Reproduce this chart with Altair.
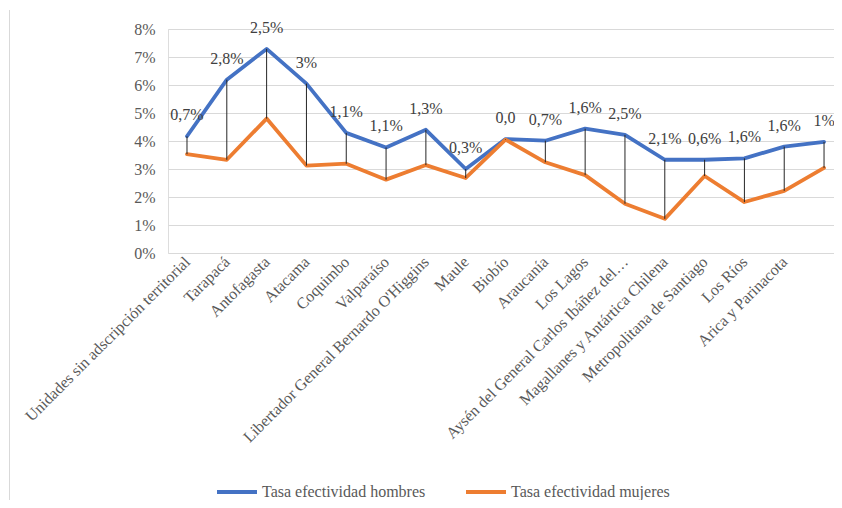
import json
import altair as alt
import pandas as pd

regiones = [
    "Unidades sin adscripción territorial", "Tarapacá", "Antofagasta", "Atacama",
    "Coquimbo", "Valparaíso", "Libertador General Bernardo O'Higgins", "Maule",
    "Biobío", "Araucanía", "Los Lagos", "Aysén del General Carlos Ibáñez del…",
    "Magallanes y Antártica Chilena", "Metropolitana de Santiago", "Los Ríos",
    "Arica y Parinacota", "Ñuble",
]
hombres = [4.17, 6.19, 7.29, 6.05, 4.29, 3.77, 4.40, 3.00, 4.07, 4.01, 4.44,
           4.22, 3.33, 3.33, 3.38, 3.80, 3.97]
mujeres = [3.53, 3.33, 4.80, 3.12, 3.19, 2.62, 3.14, 2.68, 4.05, 3.24, 2.78,
           1.76, 1.22, 2.75, 1.82, 2.22, 3.04]
etiquetas = ["0,7%", "2,8%", "2,5%", "3%", "1,1%", "1,1%", "1,3%", "0,3%", "0,0",
             "0,7%", "1,6%", "2,5%", "2,1%", "0,6%", "1,6%", "1,6%", "1%"]
series = ["Tasa efectividad hombres", "Tasa efectividad mujeres"]
colores = ["#4472C4", "#ED7D31"]
visibles = 16  # etiquetas del eje mostradas
ticks_y = [0, 1, 2, 3, 4, 5, 6, 7, 8]

df = pd.DataFrame({
    "idx": list(range(len(regiones))),
    "region": regiones,
    series[0]: [v / 100 for v in hombres],
    series[1]: [v / 100 for v in mujeres],
    "etiqueta": etiquetas,
})

FONT = "Liberation Serif"
names_js = json.dumps(regiones, ensure_ascii=False)

xscale = alt.Scale(domain=[-0.477, 16.25], nice=False, zero=False)
xaxis = alt.Axis(
    values=list(range(visibles)), labelExpr=f"{names_js}[datum.value]",
    labelAngle=-45, labelAlign="right", labelBaseline="middle",
    labelPadding=6, ticks=False, domain=False, grid=False, title=None,
    labelFont=FONT, labelFontSize=16, labelColor="#595959", labelOverlap=False,
    labelBound=False, labelFlush=False, labelLimit=0,
)
yscale = alt.Scale(domain=[0, 0.08], nice=False)
yaxis = alt.Axis(
    values=[t / 100 for t in ticks_y], format=".0%", ticks=False, domain=False,
    grid=True, gridColor="#D9D9D9", gridWidth=1, title=None, labelPadding=13,
    labelFont=FONT, labelFontSize=16, labelColor="#595959", labelOverlap=False,
)

base = alt.Chart(df)

lines = base.transform_fold(series, as_=["serie", "valor"]).mark_line(
    strokeWidth=3.8, strokeJoin="round", strokeCap="round"
).encode(
    x=alt.X("idx:Q", scale=xscale, axis=xaxis),
    y=alt.Y("valor:Q", scale=yscale, axis=yaxis),
    color=alt.Color(
        "serie:N", scale=alt.Scale(domain=series, range=colores),
        legend=alt.Legend(
            title=None, orient="none", direction="horizontal", legendX=47,
            legendY=441, symbolType="stroke", symbolSize=1600,
            symbolStrokeWidth=3.8, labelFont=FONT, labelFontSize=16,
            labelColor="#595959", columnPadding=32, labelOffset=3,
            labelLimit=0,
        ),
    ),
    detail="serie:N",
)

rules = base.mark_rule(color="#262626", strokeWidth=1).encode(
    x=alt.X("idx:Q", scale=xscale, axis=xaxis),
    y=alt.Y(f"{series[0]}:Q", scale=yscale, axis=yaxis),
    y2=alt.Y2(f"{series[1]}:Q"),
)

texts = base.mark_text(
    dy=-21, font=FONT, fontSize=16, color="#404040", align="center",
    baseline="middle",
).encode(
    x=alt.X("idx:Q", scale=xscale, axis=xaxis),
    y=alt.Y(f"{series[0]}:Q", scale=yscale, axis=yaxis),
    text="etiqueta:N",
)

border = alt.Chart(pd.DataFrame({"k": [0]})).mark_rule(
    color="#D9D9D9", strokeWidth=1
).encode(x=alt.value(-158.5), y=alt.value(-19), y2=alt.value(471))

chart = alt.layer(border, lines, rules, texts).properties(
    width=666, height=224,
    autosize=alt.AutoSizeParams(type="none"),
    padding={"left": 160, "top": 21, "right": 0, "bottom": 247},
).configure_view(strokeWidth=0).configure(background="white")

chart.save("out.html", embed_options={"renderer": "svg", "actions": False})
